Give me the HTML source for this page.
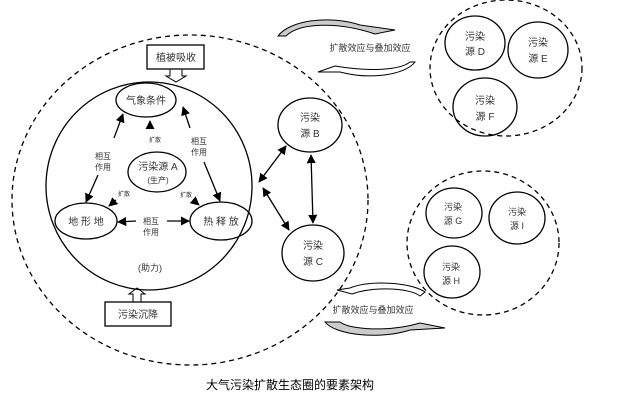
<!DOCTYPE html>
<html><head><meta charset="utf-8"><style>
body{margin:0;background:#fff}
svg{display:block;font-family:"Liberation Sans","Noto Sans CJK SC",sans-serif}
</style></head><body>
<svg width="620" height="400" viewBox="0 0 620 400" xmlns="http://www.w3.org/2000/svg">
<defs>
<marker id="a" viewBox="0 0 10 10" refX="9" refY="5" markerWidth="7" markerHeight="7" orient="auto-start-reverse"><path d="M0,0L10,5L0,10z" fill="#000"/></marker>
</defs>
<g fill="none" stroke="#000" stroke-width="1.3">
<ellipse cx="190" cy="200" rx="178" ry="165" stroke-dasharray="5,4"/>
<ellipse cx="506" cy="68" rx="76" ry="68" stroke-dasharray="5,4"/>
<ellipse cx="483" cy="243" rx="76" ry="72" stroke-dasharray="5,4"/>
<ellipse cx="149" cy="186" rx="103" ry="104"/>
<ellipse cx="146" cy="100" rx="30" ry="17"/>
<ellipse cx="157" cy="172" rx="29" ry="20"/>
<ellipse cx="86" cy="221" rx="31" ry="18"/>
<ellipse cx="221" cy="221" rx="31" ry="19"/>
<rect x="147" y="45" width="57" height="24"/>
<rect x="105" y="302" width="66" height="24"/>
<ellipse cx="310" cy="125" rx="32" ry="27"/>
<ellipse cx="313" cy="253" rx="31" ry="28"/>
<ellipse cx="475" cy="43" rx="30" ry="27"/>
<ellipse cx="538" cy="50" rx="30" ry="28"/>
<ellipse cx="485" cy="107" rx="32" ry="29"/>
<ellipse cx="454" cy="213" rx="28" ry="25"/>
<ellipse cx="517" cy="218" rx="28" ry="26"/>
<ellipse cx="452" cy="272" rx="28" ry="26"/>
<!-- hollow arrows -->
<path d="M170,69h12v7h4l-10,6l-10,-6h4z" stroke-width="1"/>
<path d="M133,302v-8h-4l8,-6l8,6h-4v8z" stroke-width="1"/>
<!-- inner arrows -->
<line x1="114" y1="138" x2="123" y2="114" marker-end="url(#a)"/>
<line x1="98" y1="175" x2="86" y2="202" marker-end="url(#a)"/>
<line x1="190" y1="128" x2="183" y2="107" marker-end="url(#a)"/>
<line x1="204" y1="162" x2="220" y2="201" marker-end="url(#a)"/>
<line x1="136" y1="221" x2="118" y2="222" marker-end="url(#a)"/>
<line x1="167" y1="221" x2="189" y2="221" marker-end="url(#a)"/>
<line x1="150" y1="128" x2="150" y2="121" marker-end="url(#a)"/>
<line x1="116" y1="200" x2="109" y2="206" marker-end="url(#a)"/>
<line x1="193" y1="200" x2="199" y2="205" marker-end="url(#a)"/>
<line x1="286" y1="146" x2="259" y2="182" marker-start="url(#a)" marker-end="url(#a)"/>
<line x1="263" y1="188" x2="289" y2="230" marker-start="url(#a)" marker-end="url(#a)"/>
<line x1="311" y1="155" x2="313" y2="223" marker-start="url(#a)" marker-end="url(#a)"/>
</g>
<!-- curved arrows -->
<g stroke="#000" stroke-width="1">
<path d="M278,36 C290,20 330,15 360,25 L395,30 L375,34 C340,22 300,22 286,36z" fill="#ccc"/>
<path d="M415,62 C405,75 370,80 340,72 L318,72 L335,66 C370,72 400,70 410,62z" fill="#fff"/>
<path d="M425,292 C410,282 370,280 350,288 L337,290 L352,294 C375,286 410,288 420,296z" fill="#fff"/>
<path d="M325,322 C335,335 380,340 410,330 L445,328 L420,323 C390,332 350,330 340,322z" fill="#ccc"/>
</g>
<g font-size="10" fill="#333" text-anchor="middle">
<text x="176" y="61">植被吸收</text>
<text x="138" y="318">污染沉降</text>
<text x="146" y="104">气象条件</text>
<text x="158" y="170">污染源 A</text>
<text x="158" y="183" font-size="8">(生产)</text>
<text x="86" y="225">地 形 地</text>
<text x="221" y="225">热 释 放</text>
<text x="150" y="271" font-size="9">(助力)</text>
<text x="103" y="159" font-size="8">相互</text><text x="103" y="170" font-size="8">作用</text>
<text x="199" y="144" font-size="8">相互</text><text x="199" y="155" font-size="8">作用</text>
<text x="151" y="224" font-size="8">相互</text><text x="151" y="235" font-size="8">作用</text>
<text x="155" y="142" font-size="6">扩散</text>
<text x="124" y="196" font-size="6">扩散</text>
<text x="186" y="197" font-size="6">扩散</text>
<text x="310" y="121">污染</text><text x="310" y="137">源 B</text>
<text x="313" y="249">污染</text><text x="313" y="265">源 C</text>
<text x="475" y="40">污染</text><text x="475" y="55">源 D</text>
<text x="538" y="46">污染</text><text x="538" y="62">源 E</text>
<text x="485" y="104">污染</text><text x="485" y="120">源 F</text>
<text x="453" y="210" font-size="9">污染</text><text x="453" y="224" font-size="9">源 G</text>
<text x="517" y="215" font-size="9">污染</text><text x="517" y="229" font-size="9">源 I</text>
<text x="451" y="270" font-size="9">污染</text><text x="451" y="284" font-size="9">源 H</text>
<text x="370" y="51" font-size="9">扩散效应与叠加效应</text>
<text x="373" y="313" font-size="9">扩散效应与叠加效应</text>
<text x="290" y="389" font-size="12" fill="#000">大气污染扩散生态圈的要素架构</text>
</g>
</svg>
</body></html>
